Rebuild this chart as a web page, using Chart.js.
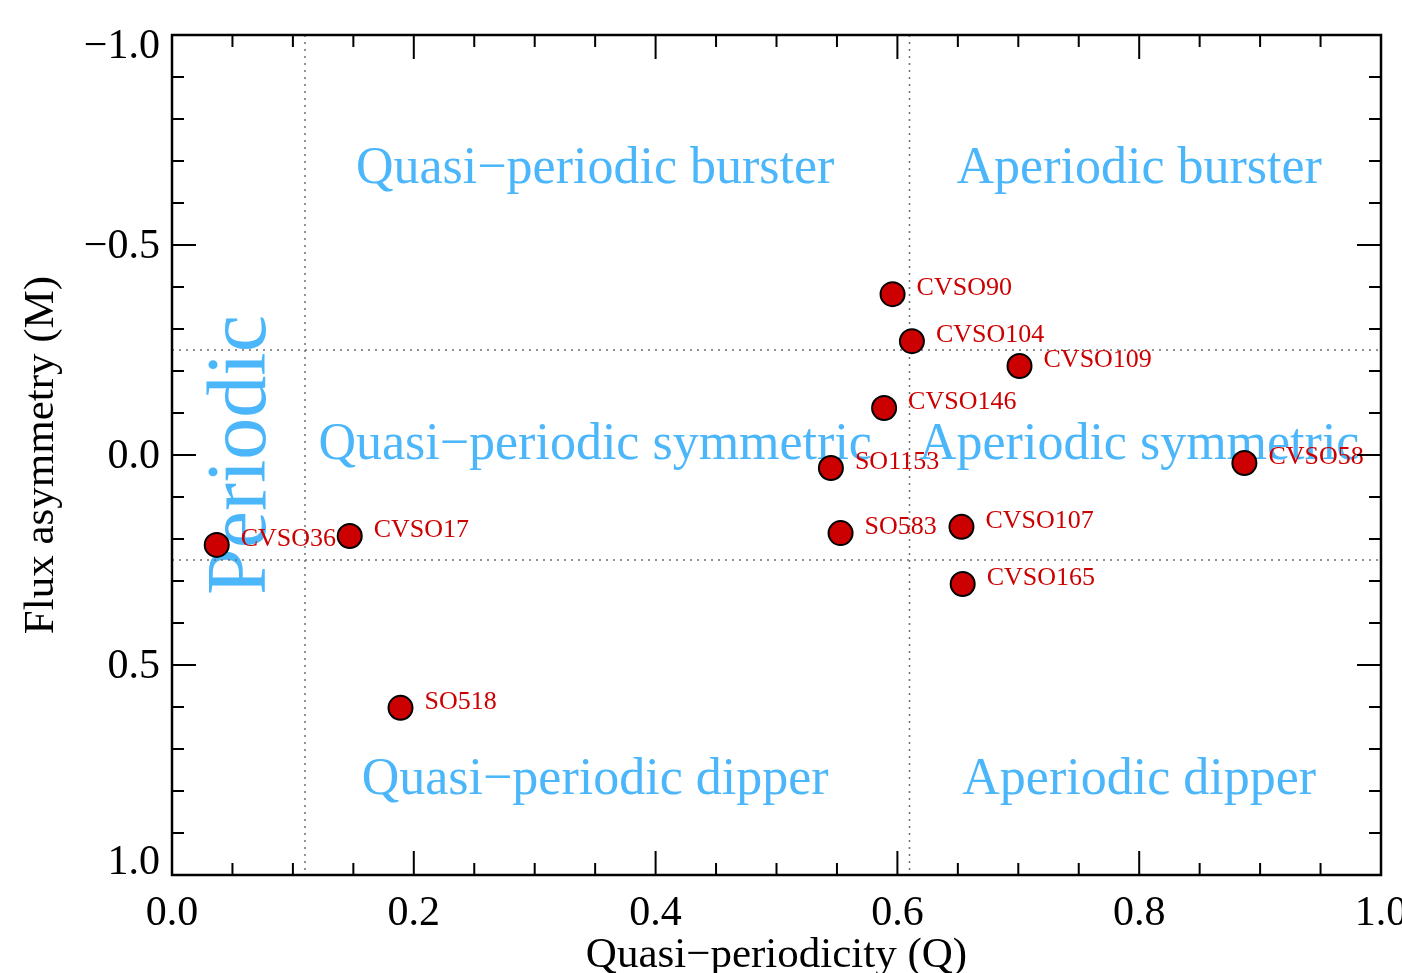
<!DOCTYPE html>
<html>
<head>
<meta charset="utf-8">
<script src="https://cdn.jsdelivr.net/npm/chart.js@4.4.1/dist/chart.umd.min.js"></script>
<style>
  html, body { margin: 0; padding: 0; background: #fff; }
  #wrap { width: 1402px; height: 973px; position: relative; }
</style>
</head>
<body>
<div id="wrap"><canvas id="chart"></canvas></div>
<script>
// star names and their (Q, M) values
const names = ['CVSO90', 'CVSO104', 'CVSO109', 'CVSO146', 'SO1153', 'CVSO58',
               'CVSO107', 'SO583', 'CVSO165', 'CVSO17', 'CVSO36', 'SO518'];
const qValues = [0.596, 0.612, 0.701, 0.589, 0.545, 0.887, 0.653, 0.553, 0.654, 0.147, 0.037, 0.189];
const mValues = [-0.383, -0.271, -0.212, -0.112, 0.031, 0.019, 0.171, 0.186, 0.307, 0.193, 0.214, 0.602];

// class boundaries (dotted lines)
const qBounds = [0.11, 0.61];
const mBounds = [-0.25, 0.25];

// ticks
const xMajor = [0, 0.2, 0.4, 0.6, 0.8, 1.0];
const xTickLabels = ['0.0', '0.2', '0.4', '0.6', '0.8', '1.0'];
const yMajor = [-1, -0.5, 0, 0.5, 1];
const yTickLabels = ['\u22121.0', '\u22120.5', '0.0', '0.5', '1.0'];
const xMinorStep = 0.05;
const yMinorStep = 0.1;

// region names
const regionNames = ['Quasi\u2212periodic burster', 'Aperiodic burster',
                     'Quasi\u2212periodic symmetric', 'Aperiodic symmetric',
                     'Quasi\u2212periodic dipper', 'Aperiodic dipper'];

const SERIF = "'Liberation Serif', 'Times New Roman', serif";
const BLUE = '#4cb6fa';
const RED = '#cc0000';

// anchor points for the region labels (data coords, baseline centre)
const regionAnchors = [
  [0.35, -0.648], [0.80, -0.648],
  [0.35, 0.010], [0.80, 0.010],
  [0.35, 0.806], [0.80, 0.806]
];

const pointData = qValues.map((q, i) => ({ x: q, y: mValues[i] }));

const boundaryLines = [
  ...qBounds.map(q => [{ x: q, y: -1 }, { x: q, y: 1 }]),
  ...mBounds.map(m => [{ x: 0, y: m }, { x: 1, y: m }])
].map(d => ({
  type: 'line',
  data: d,
  borderColor: '#6f6f6f',
  borderWidth: 1.5,
  borderDash: [2, 5],
  pointRadius: 0,
  order: 2
}));

const regionText = {
  id: 'regionText',
  beforeDatasetsDraw(chart) {
    const { ctx, scales: { x, y } } = chart;
    ctx.save();
    ctx.fillStyle = BLUE;
    ctx.font = '52px ' + SERIF;
    ctx.textAlign = 'center';
    ctx.textBaseline = 'alphabetic';
    regionNames.forEach((t, i) => {
      const [q, m] = regionAnchors[i];
      ctx.fillText(t, x.getPixelForValue(q), y.getPixelForValue(m));
    });
    // "Periodic" rotated
    ctx.translate(x.getPixelForValue(0.077), y.getPixelForValue(0));
    ctx.rotate(-Math.PI / 2);
    ctx.font = '84px ' + SERIF;
    ctx.fillText('Periodic', 0, 0);
    ctx.restore();
  }
};

const pointLabels = {
  id: 'pointLabels',
  afterDatasetsDraw(chart) {
    const { ctx } = chart;
    const meta = chart.getDatasetMeta(0);
    ctx.save();
    ctx.fillStyle = RED;
    ctx.font = '26px ' + SERIF;
    ctx.textAlign = 'left';
    ctx.textBaseline = 'middle';
    meta.data.forEach((pt, i) => {
      ctx.fillText(names[i], pt.x + 24, pt.y - 6);
    });
    ctx.restore();
  }
};

// end labels of the y axis sit inside the frame, like the original
const nudgeEndLabels = {
  id: 'nudgeEndLabels',
  beforeDraw(chart) {
    const items = chart.scales.y.getLabelItems();
    items.forEach((it, i) => {
      if (i === 0) it.options.translation[1] += 12;
      else if (i === items.length - 1) it.options.translation[1] -= 12;
      else it.options.translation[1] += 2;
    });
  }
};

// frame and inward ticks on all four sides
const frameTicks = {
  id: 'frameTicks',
  afterDraw(chart) {
    const { ctx, chartArea: a, scales: { x, y } } = chart;
    ctx.save();
    ctx.strokeStyle = '#000';
    ctx.lineWidth = 2;
    const isMajor = (v, list) => list.some(t => Math.abs(t - v) < 1e-6);
    for (let v = 0; v <= 1.0001; v += xMinorStep) {
      const px = x.getPixelForValue(v);
      const len = isMajor(v, xMajor) ? 24 : 12;
      ctx.beginPath();
      ctx.moveTo(px, a.bottom); ctx.lineTo(px, a.bottom - len);
      ctx.moveTo(px, a.top); ctx.lineTo(px, a.top + len);
      ctx.stroke();
    }
    for (let v = -1; v <= 1.0001; v += yMinorStep) {
      const py = y.getPixelForValue(v);
      const len = isMajor(v, yMajor) ? 24 : 12;
      ctx.beginPath();
      ctx.moveTo(a.left, py); ctx.lineTo(a.left + len, py);
      ctx.moveTo(a.right, py); ctx.lineTo(a.right - len, py);
      ctx.stroke();
    }
    ctx.lineWidth = 2.5;
    ctx.strokeRect(a.left, a.top, a.right - a.left, a.bottom - a.top);
    ctx.restore();
  }
};

new Chart(document.getElementById('chart'), {
  type: 'scatter',
  data: {
    datasets: [{
      data: pointData,
      backgroundColor: RED,
      borderColor: '#000',
      borderWidth: 2,
      pointRadius: 12,
      order: 0
    }, ...boundaryLines]
  },
  options: {
    responsive: true,
    maintainAspectRatio: false,
    animation: false,
    events: [],
    layout: { padding: { left: 0, top: 35, right: 21, bottom: 0 } },
    plugins: { legend: { display: false }, tooltip: { enabled: false } },
    scales: {
      x: {
        type: 'linear',
        min: 0, max: 1,
        grid: { display: false, drawTicks: false },
        border: { display: false },
        afterBuildTicks: s => { s.ticks = xMajor.map(v => ({ value: v })); },
        afterFit: s => { s.height = 98; s.paddingLeft = 0; s.paddingRight = 0; },
        ticks: {
          autoSkip: false,
          maxRotation: 0,
          padding: 14,
          color: '#000',
          font: { family: SERIF, size: 42 },
          callback: v => xTickLabels[xMajor.findIndex(t => Math.abs(t - v) < 1e-6)]
        },
        title: {
          display: true,
          text: 'Quasi\u2212periodicity (Q)',
          color: '#000',
          font: { family: SERIF, size: 43, lineHeight: 0.8 },
          padding: 0
        }
      },
      y: {
        type: 'linear',
        min: -1, max: 1,
        reverse: true,
        grid: { display: false, drawTicks: false },
        border: { display: false },
        afterBuildTicks: s => { s.ticks = yMajor.map(v => ({ value: v })); },
        afterFit: s => { s.width = 172; s.paddingTop = 0; s.paddingBottom = 0; },
        ticks: {
          autoSkip: false,
          padding: 12,
          color: '#000',
          font: { family: SERIF, size: 42 },
          callback: v => yTickLabels[yMajor.findIndex(t => Math.abs(t - v) < 1e-6)]
        },
        title: {
          display: true,
          text: 'Flux asymmetry (M)',
          color: '#000',
          font: { family: SERIF, size: 43, lineHeight: 0.8 },
          padding: { top: 25, bottom: 0 }
        }
      }
    }
  },
  plugins: [nudgeEndLabels, regionText, pointLabels, frameTicks]
});
</script>
</body>
</html>
